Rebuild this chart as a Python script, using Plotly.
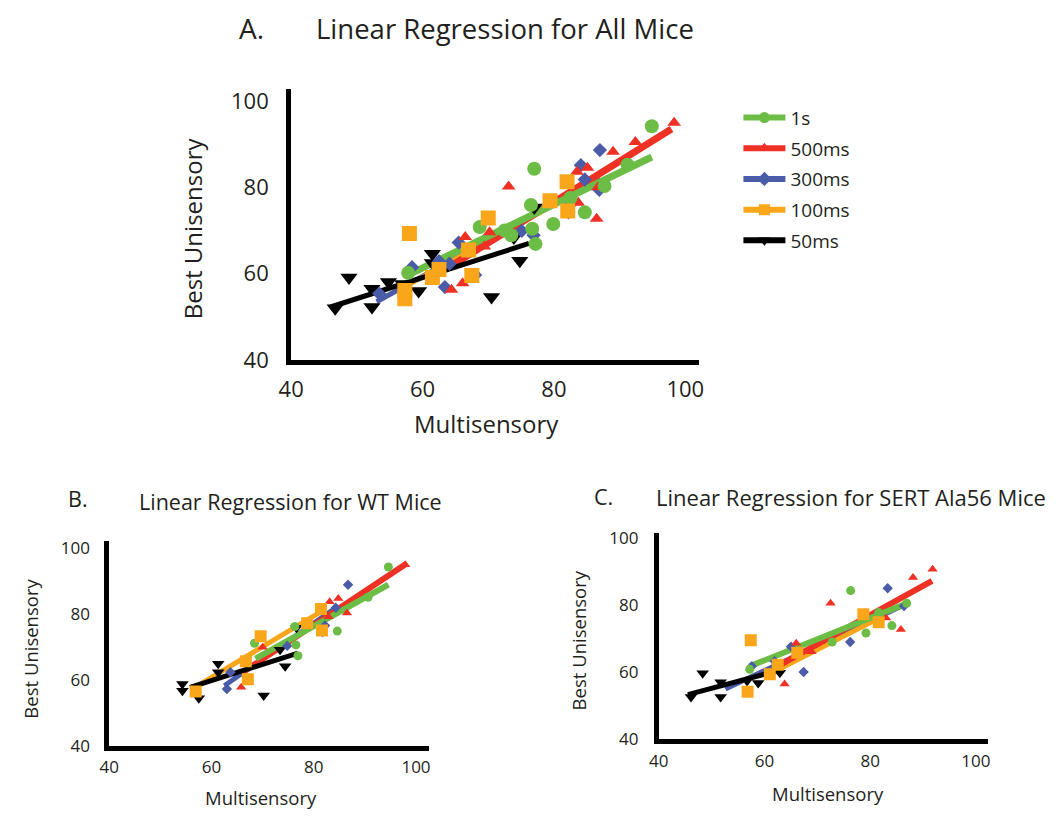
import plotly.graph_objects as go

# ---------------- data ----------------
SERIES = ["1s", "500ms", "300ms", "100ms", "50ms"]
TICKS = [40, 60, 80, 100]

# Panel A: all mice
A_1S_X = [94.9, 77.0, 91.2, 87.7, 82.5, 76.5, 84.7, 79.9, 68.7, 72.5, 73.5, 76.7, 77.2, 57.8]
A_1S_Y = [94.1, 84.3, 85.2, 80.3, 77.5, 75.9, 74.2, 71.5, 70.8, 70.0, 68.9, 70.4, 66.9, 60.2]
A_500_X = [98.3, 92.4, 89.0, 83.5, 85.1, 73.1, 86.7, 83.7, 86.5, 70.2, 66.5, 69.4, 66.1, 64.4]
A_500_Y = [94.9, 90.5, 88.2, 83.6, 84.5, 80.2, 80.0, 76.4, 72.7, 69.6, 68.5, 66.3, 57.8, 56.3]
A_300_X = [87.0, 84.1, 84.7, 86.9, 82.2, 82.5, 75.1, 76.9, 65.5, 62.5, 64.1, 58.4, 68.0, 63.4, 53.4]
A_300_Y = [88.6, 85.1, 81.8, 79.4, 74.2, 76.0, 69.9, 68.9, 67.2, 62.9, 62.3, 61.5, 59.7, 56.9, 55.4]
A_100_X = [58.0, 70.0, 82.0, 79.4, 82.1, 67.0, 67.5, 62.5, 61.5, 57.3, 57.3]
A_100_Y = [69.3, 72.9, 81.3, 76.9, 74.5, 65.5, 59.6, 61.0, 59.1, 56.1, 54.2]
A_50_X = [46.7, 48.8, 52.3, 52.3, 54.8, 59.4, 61.5, 61.5, 70.5, 74.8, 73.9, 77.0, 57.0]
A_50_Y = [52.0, 59.1, 56.5, 52.3, 58.1, 56.0, 64.6, 62.5, 54.6, 63.0, 68.4, 75.3, 57.6]
# regression line end points
A_FIT_1S_X, A_FIT_1S_Y = [57.5, 94.9], [59.5, 87.0]
A_FIT_500_X, A_FIT_500_Y = [63.5, 97.9], [61.0, 93.5]
A_FIT_300_X, A_FIT_300_Y = [53.0, 87.0], [53.5, 82.1]
A_FIT_100_X, A_FIT_100_Y = [57.3, 82.5], [57.0, 78.0]
A_FIT_50_X, A_FIT_50_Y = [46.0, 76.2], [52.3, 67.0]

# Panel B: WT mice
B_1S_X = [94.6, 90.6, 84.6, 76.3, 76.5, 76.9, 68.4]
B_1S_Y = [94.3, 85.1, 74.8, 76.2, 70.6, 67.3, 71.1]
B_500_X = [97.9, 83.1, 84.8, 86.5, 82.9, 70.0, 65.8]
B_500_Y = [95.0, 83.7, 84.7, 80.3, 79.2, 69.9, 57.7]
B_300_X = [86.7, 84.3, 82.2, 81.7, 74.8, 63.7, 63.0]
B_300_Y = [88.9, 81.9, 76.5, 74.5, 70.3, 62.3, 57.2]
B_100_X = [69.6, 81.4, 78.7, 81.6, 66.7, 67.1, 56.9]
B_100_Y = [73.2, 81.5, 77.2, 75.0, 65.6, 60.2, 56.4]
B_50_X = [54.3, 54.3, 57.5, 61.3, 61.3, 70.2, 73.4, 74.4, 76.6]
B_50_Y = [58.7, 56.7, 54.4, 64.9, 62.3, 55.2, 69.1, 64.1, 75.8]
B_FIT_1S_X, B_FIT_1S_Y = [68.6, 94.6], [66.4, 88.9]
B_FIT_500_X, B_FIT_500_Y = [66.0, 98.1], [62.2, 95.3]
B_FIT_300_X, B_FIT_300_Y = [62.5, 84.3], [58.2, 81.9]
B_FIT_100_X, B_FIT_100_Y = [56.0, 81.1], [57.0, 80.4]
B_FIT_50_X, B_FIT_50_Y = [55.8, 76.9], [57.7, 68.1]

# Panel C: SERT Ala56 mice
C_1S_X = [76.3, 86.9, 81.6, 84.1, 79.2, 72.8, 57.2]
C_1S_Y = [84.4, 80.6, 77.8, 73.9, 71.7, 69.0, 60.8]
C_500_X = [91.8, 88.1, 72.5, 83.0, 85.8, 66.0, 68.9, 63.8]
C_500_Y = [90.8, 88.3, 80.6, 76.2, 72.7, 68.6, 66.1, 56.4]
C_300_X = [83.3, 86.4, 76.2, 65.0, 61.9, 67.4, 57.6]
C_300_Y = [85.1, 79.8, 69.0, 67.6, 63.2, 60.0, 61.7]
C_100_X = [57.4, 78.7, 81.6, 66.2, 62.5, 61.0, 56.8]
C_100_Y = [69.5, 77.3, 74.9, 65.8, 62.2, 59.3, 54.1]
C_50_X = [48.3, 46.1, 51.7, 51.7, 56.7, 58.8, 62.9]
C_50_Y = [59.6, 52.5, 56.9, 52.5, 57.3, 56.7, 59.8]
C_FIT_1S_X, C_FIT_1S_Y = [57.2, 87.1], [61.7, 80.7]
C_FIT_500_X, C_FIT_500_Y = [62.0, 91.7], [61.3, 87.3]
C_FIT_300_X, C_FIT_300_Y = [52.6, 86.4], [54.9, 80.1]
C_FIT_100_X, C_FIT_100_Y = [60.5, 81.5], [59.0, 76.0]
C_FIT_50_X, C_FIT_50_Y = [45.5, 63.5], [53.2, 60.8]

# ---------------- styles ----------------
W, H = 1056, 822
FONT = "Open Sans"
TXT = "#231f20"
COLORS = {"1s": "#6cbd45", "500ms": "#ee3124", "300ms": "#4a5ba8",
          "100ms": "#faa61a", "50ms": "#000000"}
SYMBOLS = {"1s": "circle", "500ms": "triangle-up", "300ms": "diamond",
           "100ms": "square", "50ms": "triangle-down"}

PANELS = {
    "A": {
        "pts": {"1s": (A_1S_X, A_1S_Y), "500ms": (A_500_X, A_500_Y),
                "300ms": (A_300_X, A_300_Y), "100ms": (A_100_X, A_100_Y),
                "50ms": (A_50_X, A_50_Y)},
        "fit": {"1s": (A_FIT_1S_X, A_FIT_1S_Y), "500ms": (A_FIT_500_X, A_FIT_500_Y),
                "300ms": (A_FIT_300_X, A_FIT_300_Y), "100ms": (A_FIT_100_X, A_FIT_100_Y),
                "50ms": (A_FIT_50_X, A_FIT_50_Y)},
        "box": (283, 698, 85, 363), "xr": [40, 102.1], "yr": [40, 102.75],
        "msize": {"1s": 14, "500ms": 12, "300ms": 11, "100ms": 15, "50ms": 15},
        "lw": {"1s": 7, "500ms": 7, "300ms": 5, "100ms": 5, "50ms": 5},
        "tickfont": 22, "standoff_y": 13, "standoff_x": 5,
    },
    "B": {
        "pts": {"1s": (B_1S_X, B_1S_Y), "500ms": (B_500_X, B_500_Y),
                "300ms": (B_300_X, B_300_Y), "100ms": (B_100_X, B_100_Y),
                "50ms": (B_50_X, B_50_Y)},
        "fit": {"1s": (B_FIT_1S_X, B_FIT_1S_Y), "500ms": (B_FIT_500_X, B_FIT_500_Y),
                "300ms": (B_FIT_300_X, B_FIT_300_Y), "100ms": (B_FIT_100_X, B_FIT_100_Y),
                "50ms": (B_FIT_50_X, B_FIT_50_Y)},
        "box": (98, 423, 548, 758), "xr": [40, 102.5], "yr": [40, 102.3],
        "msize": {"1s": 9, "500ms": 9, "300ms": 8, "100ms": 12, "50ms": 11},
        "lw": {"1s": 6, "500ms": 6, "300ms": 5, "100ms": 5, "50ms": 5},
        "tickfont": 17, "standoff_y": 11, "standoff_x": 2,
    },
    "C": {
        "pts": {"1s": (C_1S_X, C_1S_Y), "500ms": (C_500_X, C_500_Y),
                "300ms": (C_300_X, C_300_Y), "100ms": (C_100_X, C_100_Y),
                "50ms": (C_50_X, C_50_Y)},
        "fit": {"1s": (C_FIT_1S_X, C_FIT_1S_Y), "500ms": (C_FIT_500_X, C_FIT_500_Y),
                "300ms": (C_FIT_300_X, C_FIT_300_Y), "100ms": (C_FIT_100_X, C_FIT_100_Y),
                "50ms": (C_FIT_50_X, C_FIT_50_Y)},
        "box": (657, 992, 540, 751), "xr": [40, 102.3], "yr": [40, 101.7],
        "msize": {"1s": 9, "500ms": 9, "300ms": 8, "100ms": 12, "50ms": 11},
        "lw": {"1s": 6, "500ms": 6, "300ms": 5, "100ms": 5, "50ms": 5},
        "tickfont": 17, "standoff_y": 12, "standoff_x": 3,
    },
}

LINE_ORDER = ["300ms", "100ms", "500ms", "50ms", "1s"]
MARK_ORDER = ["50ms", "300ms", "500ms", "1s", "100ms"]

fig = go.Figure()
layout_axes = {}
for i, (key, p) in enumerate(PANELS.items()):
    n = "" if i == 0 else str(i + 1)
    xa, ya = "x" + n, "y" + n
    for s in LINE_ORDER:
        fx, fy = p["fit"][s]
        fig.add_trace(go.Scatter(x=fx, y=fy, mode="lines", xaxis=xa, yaxis=ya,
                                 line=dict(color=COLORS[s], width=p["lw"][s]),
                                 showlegend=False, hoverinfo="skip"))
    for s in MARK_ORDER:
        px_, py_ = p["pts"][s]
        fig.add_trace(go.Scatter(x=px_, y=py_, mode="markers", xaxis=xa, yaxis=ya,
                                 marker=dict(symbol=SYMBOLS[s], color=COLORS[s],
                                             size=p["msize"][s], line=dict(width=0)),
                                 name=s, showlegend=False))
    l, r, t, b = p["box"]
    common = dict(showgrid=False, zeroline=False, showline=True, linecolor="black",
                  linewidth=5, ticks="", tickvals=TICKS,
                  tickfont=dict(family=FONT, size=p["tickfont"], color=TXT))
    layout_axes["xaxis" + n] = dict(common, domain=[l / W, r / W], range=p["xr"],
                                    anchor=ya, ticklabelstandoff=p["standoff_x"])
    layout_axes["yaxis" + n] = dict(common, domain=[1 - b / H, 1 - t / H], range=p["yr"],
                                    anchor=xa, ticklabelstandoff=p["standoff_y"])

# legend-only entries (line + marker), as in panel A's key
for s in SERIES:
    fig.add_trace(go.Scatter(x=[None], y=[None], mode="lines+markers", name=s,
                             legendgroup=s,
                             line=dict(color=COLORS[s], width=6),
                             marker=dict(symbol=SYMBOLS[s], color=COLORS[s], size=11)))


def ann(text, x, y, size, angle=0):
    return dict(text=text, x=x / W, y=1 - y / H, xref="paper", yref="paper",
                showarrow=False, xanchor="center", yanchor="middle", textangle=angle,
                font=dict(family=FONT, size=size, color=TXT))


annotations = [
    ann("A.", 243, 23, 28),
    ann("Linear Regression for All Mice", 501, 23, 27.5),
    ann("Best Unisensory", 183, 228, 24, angle=-90),
    ann("Multisensory", 482, 428, 24),
    ann("B.", 66, 505, 21.5),
    ann("Linear Regression for WT Mice", 282, 508, 21.5),
    ann("Best Unisensory", 18, 659, 18.5, angle=-90),
    ann("Multisensory", 252, 811, 18.5),
    ann("C.", 601, 503, 21.5),
    ann("Linear Regression for SERT Ala56 Mice", 853, 503, 22),
    ann("Best Unisensory", 575, 650, 18.5, angle=-90),
    ann("Multisensory", 829, 807, 18.5),
]

fig.update_layout(
    width=W, height=H, margin=dict(l=0, r=0, t=0, b=0),
    paper_bgcolor="white", plot_bgcolor="white",
    showlegend=True,
    legend=dict(x=738 / W, y=1 - 95 / H, xanchor="left", yanchor="top",
                font=dict(family=FONT, size=19, color=TXT), itemwidth=42,
                tracegroupgap=3, traceorder="grouped", bgcolor="rgba(0,0,0,0)"),
    annotations=annotations,
    **layout_axes,
)

fig.write_html("out.html")
